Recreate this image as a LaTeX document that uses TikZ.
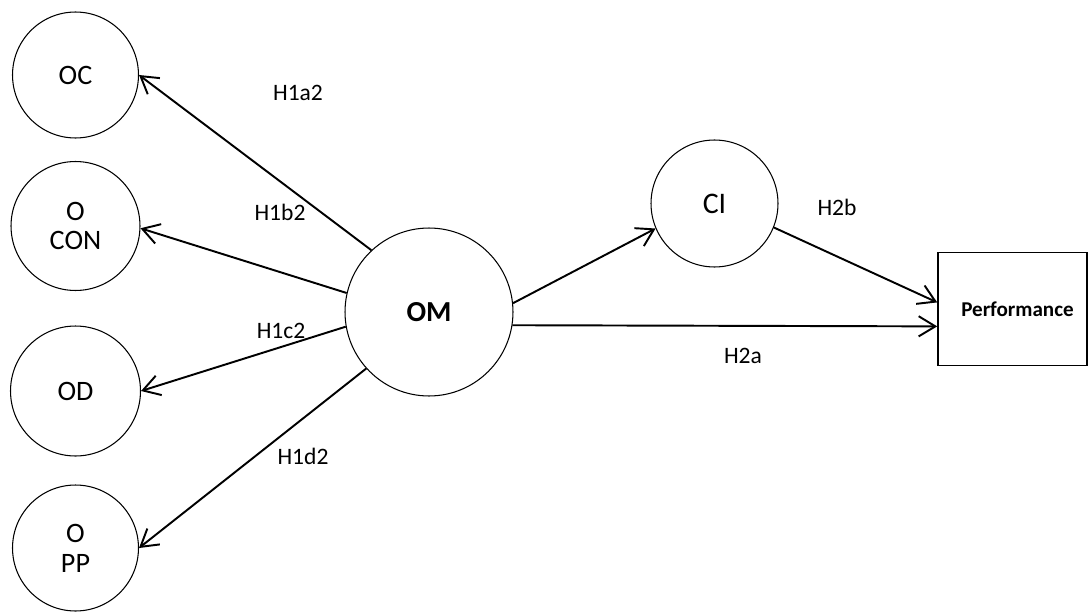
\documentclass[tikz,border=0pt]{standalone}
\usepackage{fontspec}
\setmainfont{Carlito}
\usetikzlibrary{arrows.meta}
\begin{document}
\begin{tikzpicture}[
	x=0.02cm, y=-0.02cm,
	latent/.style={circle, draw, line width=0.6pt, inner sep=0pt, align=center,
	        font=\fontsize{16}{17}\selectfont},
	hyp/.style={font=\fontsize{13.4}{16}\selectfont},
	path/.style={line width=1.1pt, -{Straight Barb[length=9.5pt,width=11.5pt]}}]
   \useasboundingbox (0,0) rectangle (1089,612);
   \node(oc)[latent, minimum size=2.52cm] at (75.5,75) {OC};
   \node(ocon)[latent, minimum size=2.58cm] at (75.5,226) {O\\CON};
   \node(od)[latent, minimum size=2.6cm] at (75.5,391) {OD};
   \node(opp)[latent, minimum size=2.52cm] at (75.5,548) {O\\PP};
   \node(om)[latent, minimum size=3.36cm, font=\fontsize{16.5}{18}\selectfont\bfseries] at (429,312) {OM};
   \node(ci)[latent, minimum size=2.54cm, font=\fontsize{17}{19}\selectfont] at (714.5,203.5) {\raisebox{-2pt}{CI}};
   \node(perf)[draw, line width=0.9pt, minimum width=2.98cm, minimum height=2.26cm,
         font=\fontsize{12}{14}\selectfont\bfseries] at (1012.5,309) {\hspace*{0.2cm}Performance};
   \node(h1a2)[hyp] at (298,93) {H1a2};
   \node(h1b2)[hyp] at (280,212) {H1b2};
   \node(h1c2)[hyp] at (281,331) {H1c2};
   \node(h1d2)[hyp] at (303,456) {H1d2};
   \node(h2a)[hyp] at (743,356) {H2a};
   \node(h2b)[hyp] at (837,207) {H2b};
   \draw[path] (om.133) -- (oc.east);
   \draw[path] (om.167) -- (ocon.358);
   \draw[path] (om.190) -- (od.east);
   \draw[path] (om.222) -- (opp.east);
   \draw[path] (om.6) -- (ci.203);
   \draw[path] (om.351) -- (perf.193);
   \draw[path] (ci.338) -- (perf.175);
\end{tikzpicture}
\end{document}
